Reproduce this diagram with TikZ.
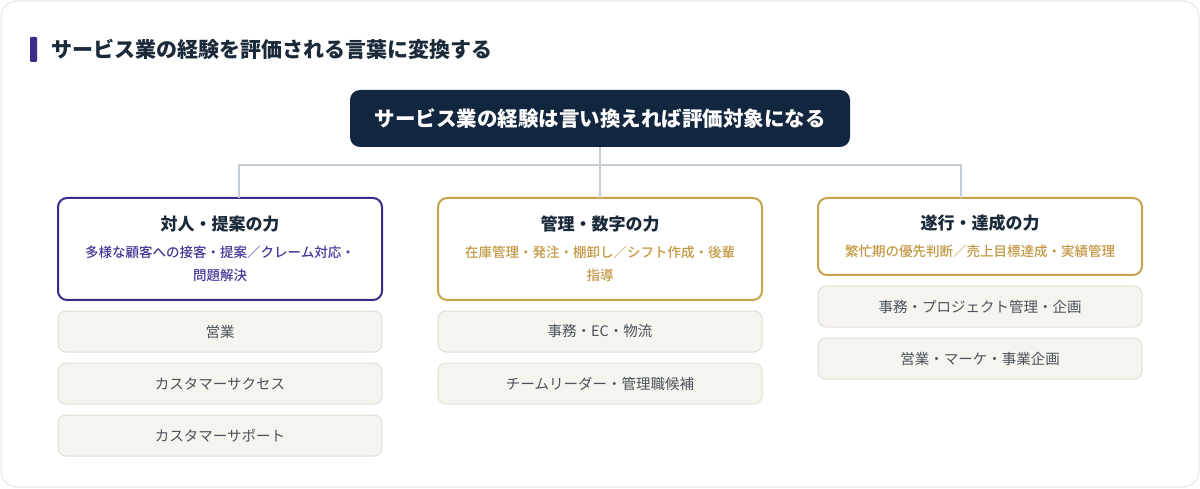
\documentclass[tikz,border=0pt]{standalone}
\usepackage{fontspec}
\setmainfont{Noto Sans CJK JP}
\newfontfamily\jpmedium{Noto Sans CJK JP Medium}
\usetikzlibrary{positioning}
\definecolor{navy}{HTML}{12263F}
\definecolor{ink}{HTML}{1B2A3A}
\definecolor{violet}{HTML}{3B2C8C}
\definecolor{violettext}{HTML}{46379A}
\definecolor{gold}{HTML}{C9A24C}
\definecolor{goldtext}{HTML}{C39844}
\definecolor{wire}{HTML}{C5CED8}
\definecolor{chipfill}{HTML}{F5F4EF}
\definecolor{chipline}{HTML}{E2DFD3}
\definecolor{chiptext}{HTML}{4B525B}
\definecolor{frame}{HTML}{E6E5DA}
\tikzset{skill/.style={draw,line width=2pt,fill=white,rounded corners=9pt,outer sep=0pt,
                       minimum width=324pt,align=center,anchor=north,
                       font=\jpmedium\fontsize{13.5}{23}\selectfont},
         chip/.style={draw=chipline,fill=chipfill,line width=1pt,rounded corners=8pt,outer sep=0pt,
                      minimum width=324pt,minimum height=41pt,text=chiptext,
                      font=\fontsize{14.5}{17}\selectfont},
         wireline/.style={draw=wire,line width=2pt}}
\newcommand{\skilltitle}[1]{{\normalfont\bfseries\fontsize{17}{22}\selectfont\color{ink}#1}}

\begin{document}
\begin{tikzpicture}[x=1pt,y=1pt,node distance=11pt]
        \useasboundingbox (0,0) rectangle (1200,488);
        \draw[frame,line width=1pt,rounded corners=16pt] (1,1) rectangle (1199,487);

        \fill[violet,rounded corners=1pt] (30,426) rectangle (37,451);
        \node[anchor=west,text=ink,font=\bfseries\fontsize{21}{24}\selectfont](title)at(48,439){サービス業の経験を評価される言葉に変換する};

        \node[fill=navy,rounded corners=10pt,minimum width=500pt,minimum height=57pt,text=white,
              font=\bfseries\fontsize{20.5}{24}\selectfont](root)at(600,369.5){サービス業の経験は言い換えれば評価対象になる};

        \node[skill,draw=violet,minimum height=102pt](s1)at(220,290){\skilltitle{対人・提案の力}\\[4pt]
              {\color{violettext}多様な顧客への接客・提案／クレーム対応・}\\{\color{violettext}問題解決}};
        \node[skill,draw=gold,minimum height=102pt](s2)at(600,290){\skilltitle{管理・数字の力}\\[4pt]
              {\color{goldtext}在庫管理・発注・棚卸し／シフト作成・後輩}\\{\color{goldtext}指導}};
        \node[skill,draw=gold,minimum height=77pt](s3)at(980,290){\skilltitle{遂行・達成の力}\\[4pt]
              {\color{goldtext}繁忙期の優先判断／売上目標達成・実績管理}};

        \node[chip,below=of s1](c11){営業};
        \node[chip,below=of c11](c12){カスタマーサクセス};
        \node[chip,below=of c12](c13){カスタマーサポート};
        \node[chip,below=of s2](c21){事務・EC・物流};
        \node[chip,below=of c21](c22){チームリーダー・管理職候補};
        \node[chip,below=of s3](c31){事務・プロジェクト管理・企画};
        \node[chip,below=of c31](c32){営業・マーケ・事業企画};

        \coordinate (hub) at (600,323);
        \coordinate (drop1) at ([xshift=19pt]s1.north);
        \coordinate (drop3) at ([xshift=-19pt]s3.north);
        \draw[wireline](root.south)--(hub);
        \draw[wireline](drop1)|-(hub)-|(drop3);
        \draw[wireline](hub)--(s2.north);
    \end{tikzpicture}
\end{document}
